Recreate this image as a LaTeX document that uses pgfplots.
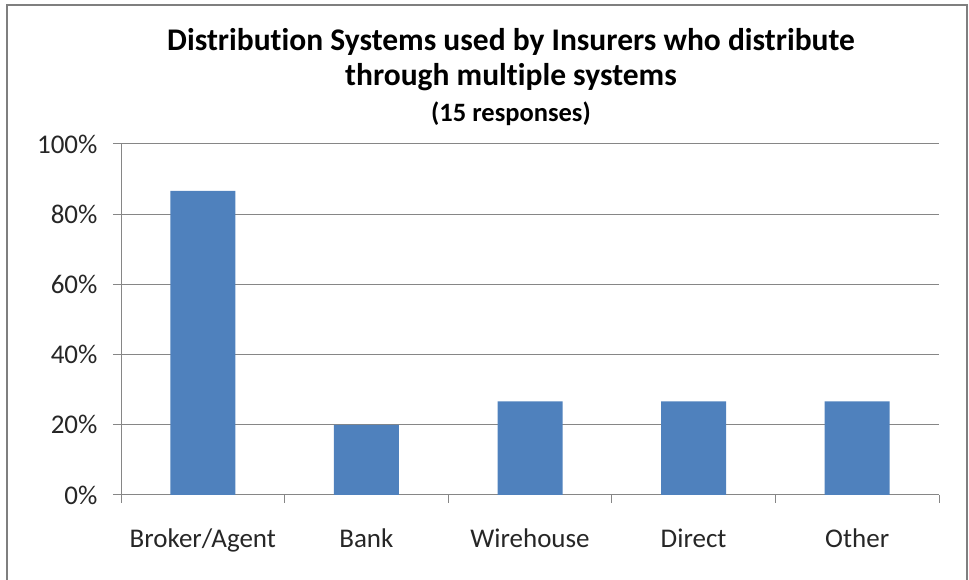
\documentclass[border=0pt]{standalone}
\usepackage{pgfplots}
\pgfplotsset{compat=1.18}
\usepackage{fontspec}
\setmainfont[Ligatures=NoCommon]{Carlito}
\definecolor{barblue}{HTML}{4F81BD}
\definecolor{axgray}{HTML}{868686}
\definecolor{framegray}{HTML}{7F7F7F}
\begin{document}
\begin{tikzpicture}[x=1pt,y=1pt]
\useasboundingbox (0,0) rectangle (969,580);
\clip (0,0) rectangle (969,580);
\draw[framegray, line width=2pt] (7,-20) -- (7,575) -- (967,575) -- (967,-20);
\node[font=\fontsize{31.5}{36}\selectfont\bfseries, align=center, anchor=base] at (511,529) {Distribution Systems used by Insurers who distribute};
\node[font=\fontsize{31.5}{36}\selectfont\bfseries, align=center, anchor=base] at (511,494) {through multiple systems};
\node[font=\fontsize{26.5}{30}\selectfont\bfseries, align=center, anchor=base] at (511,458) {(15 responses)};
\begin{axis}[
  at={(121pt,85pt)}, anchor=south west,
  scale only axis, width=818pt, height=351pt,
  ymin=0, ymax=100, xmin=-0.5, xmax=4.5,
  axis x line*=bottom, axis y line*=left,
  axis line style={axgray, line width=1pt},
  ytick={0,20,40,60,80,100},
  yticklabels={0\%,20\%,40\%,60\%,80\%,100\%},
  xtick={0,1,2,3,4},
  xticklabels={Broker/Agent,Bank,Wirehouse,Direct,Other},
  minor xtick={-0.5,0.5,1.5,2.5,3.5,4.5},
  tick align=outside,
  major tick length=8pt, minor tick length=8pt,
  major x tick style={draw=none},
  minor x tick style={axgray, line width=1pt},
  major y tick style={axgray, line width=1pt},
  ymajorgrids, major grid style={axgray, line width=1pt},
  ticklabel style={font=\fontsize{27}{32}\selectfont, text=black!85},
  yticklabel style={xshift=-12pt},
  xticklabel style={yshift=-22pt},
  tick label style={/pgf/number format/assume math mode=true},
  clip=false,
]
\addplot[ybar, bar width=65pt, fill=barblue, draw=none] coordinates {(0,86.67) (1,20) (2,26.67) (3,26.67) (4,26.67)};
\end{axis}
\end{tikzpicture}
\end{document}
